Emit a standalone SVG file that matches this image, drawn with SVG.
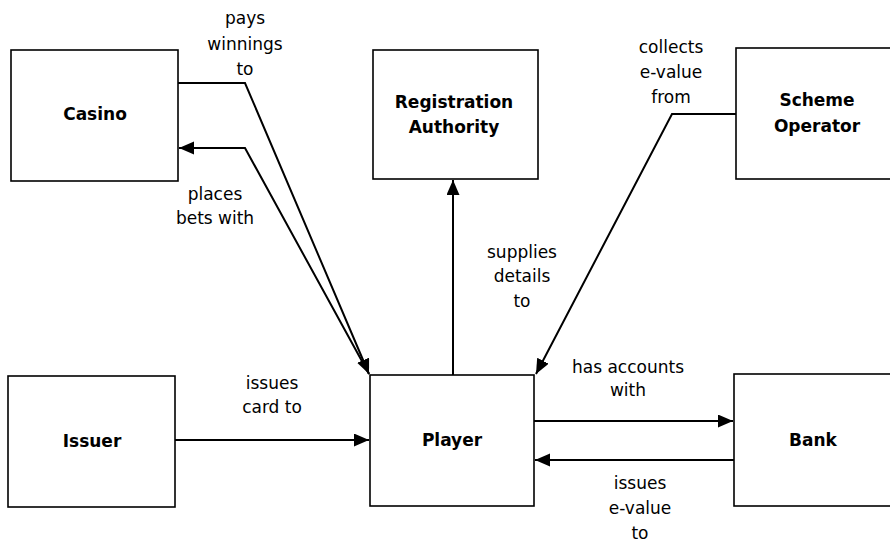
<svg xmlns="http://www.w3.org/2000/svg" width="890" height="545" viewBox="0 0 890 545">
<style>
.box{fill:#fff;stroke:#000;stroke-width:1.6}
.lbl{font-family:"DejaVu Sans","Liberation Sans",sans-serif;font-size:17px;text-anchor:middle;fill:#000}
.name{font-family:"DejaVu Sans","Liberation Sans",sans-serif;font-size:17px;font-weight:bold;text-anchor:middle;fill:#000}
.con{fill:none;stroke:#000;stroke-width:2}
</style>
<defs>
<marker id="arr" markerUnits="userSpaceOnUse" markerWidth="16" markerHeight="14" refX="15" refY="6.5" orient="auto">
<path d="M0,0 L15,6.5 L0,13 z" fill="#000"/>
</marker>
</defs>
<rect width="890" height="545" fill="#fff"/>
<g id="casino"><rect class="box" x="11" y="50" width="167" height="131"/><text class="name" x="95" y="120">Casino</text></g>
<g id="registration"><rect class="box" x="373" y="50" width="165" height="129"/><text class="name" x="454" y="108">Registration</text><text class="name" x="454" y="133">Authority</text></g>
<g id="scheme"><rect class="box" x="736" y="48" width="170" height="131"/><text class="name" x="817" y="106">Scheme</text><text class="name" x="817" y="132">Operator</text></g>
<g id="issuer"><rect class="box" x="8" y="376" width="167" height="131"/><text class="name" x="92" y="447">Issuer</text></g>
<g id="player"><rect class="box" x="370" y="375" width="164" height="131"/><text class="name" x="452" y="446">Player</text></g>
<g id="bank"><rect class="box" x="734" y="374" width="170" height="132"/><text class="name" x="813" y="446">Bank</text></g>
<g id="connectors">
<path class="con" d="M178,83 L245,83 L369,374" marker-end="url(#arr)"/>
<path class="con" d="M369,374 L245,148 L179,148" marker-end="url(#arr)"/>
<path class="con" d="M453,375 L453,180" marker-end="url(#arr)"/>
<path class="con" d="M736,114 L672,114 L536,374" marker-end="url(#arr)"/>
<path class="con" d="M175,440 L369,440" marker-end="url(#arr)"/>
<path class="con" d="M534,421 L733,421" marker-end="url(#arr)"/>
<path class="con" d="M734,460 L535,460" marker-end="url(#arr)"/>
</g>
<g id="labels">
<text class="lbl" x="245" y="24">pays</text>
<text class="lbl" x="245" y="50">winnings</text>
<text class="lbl" x="245" y="75">to</text>
<text class="lbl" x="215" y="200">places</text>
<text class="lbl" x="215" y="224">bets with</text>
<text class="lbl" x="671" y="53">collects</text>
<text class="lbl" x="671" y="78">e-value</text>
<text class="lbl" x="671" y="103">from</text>
<text class="lbl" x="522" y="258">supplies</text>
<text class="lbl" x="522" y="282">details</text>
<text class="lbl" x="522" y="307">to</text>
<text class="lbl" x="272" y="389">issues</text>
<text class="lbl" x="272" y="413">card to</text>
<text class="lbl" x="628" y="373">has accounts</text>
<text class="lbl" x="628" y="396">with</text>
<text class="lbl" x="640" y="489">issues</text>
<text class="lbl" x="640" y="514">e-value</text>
<text class="lbl" x="640" y="539">to</text>
</g>
</svg>
